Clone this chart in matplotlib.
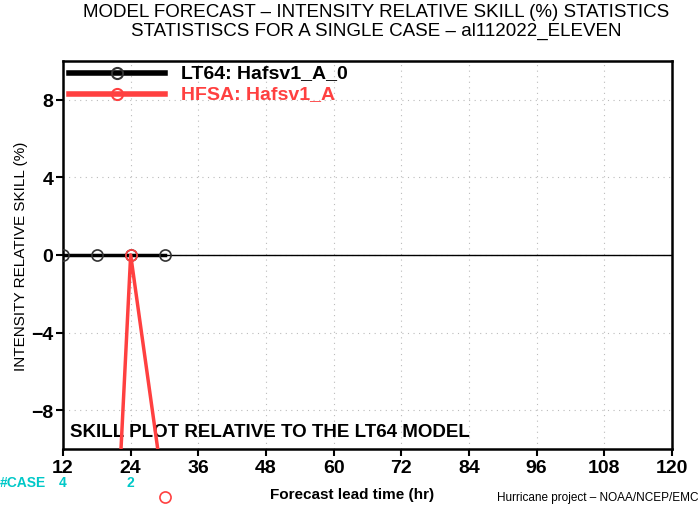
import matplotlib
matplotlib.use("Agg")
import matplotlib.pyplot as plt

# data
lead_hr = [12, 18, 24, 30]
skill_lt64 = [0, 0, 0, 0]
lead_hfsa = [18, 24, 30]
skill_hfsa = [-35, 0, -12.5]
case_hr = [12, 24]
case_n = ['4', '2']
xticks = [12, 24, 36, 48, 60, 72, 84, 96, 108, 120]
yticks = [-8, -4, 0, 4, 8]

plt.rcParams['font.family'] = ['Liberation Sans', 'DejaVu Sans']

fig = plt.figure(figsize=(7, 5.06), dpi=100)
ax = fig.add_axes([0.09, 0.1107, 0.87, 0.767])

ax.axhline(0, color='black', lw=1, zorder=2)
ax.plot(lead_hr, skill_lt64, color='black', lw=2.5, marker='o', ms=8,
        mfc='none', mec='#333333', mew=1.2, zorder=3)
ax.plot(lead_hfsa, skill_hfsa, color='#ff4040', lw=2.5, zorder=4)
ax.plot(lead_hfsa, skill_hfsa, ls='none', marker='o', ms=8, mfc='none',
        mec='#ff4040', mew=1.2, clip_on=False, zorder=5)

ax.set_xlim(12, 120)
ax.set_ylim(-10, 10)
ax.set_xticks(xticks)
ax.set_yticks(yticks)
ax.set_xticklabels([str(t) for t in xticks], fontsize=14, fontweight='bold')
ax.set_yticklabels(['\u22128', '\u22124', '0', '4', '8'], fontsize=14, fontweight='bold')
ax.tick_params(direction='out', length=5, width=1.5, pad=2)
ax.grid(True, ls=(0, (1, 4)), color='#bbbbbb', lw=0.8)
for s in ax.spines.values():
    s.set_linewidth(1.8)

# legend drawn as in the original plot
ax.plot([13, 30], [9.4, 9.4], color='black', lw=4)
ax.plot([21.5], [9.4], marker='o', ms=8, mfc='none', mec='#333333', mew=1.5)
ax.plot([13, 30], [8.3, 8.3], color='#ff4040', lw=4)
ax.plot([21.5], [8.3], marker='o', ms=8, mfc='none', mec='#ff4040', mew=1.5)
ax.text(33, 9.4, 'LT64: Hafsv1_A_0', color='black', fontsize=14,
        fontweight='bold', va='center')
ax.text(33, 8.3, 'HFSA: Hafsv1_A', color='#ff4040', fontsize=14,
        fontweight='bold', va='center')

ax.text(13.3, -9.1, 'SKILL PLOT RELATIVE TO THE LT64 MODEL', fontsize=13.5,
        fontweight='bold', va='center')

ax.set_ylabel('INTENSITY RELATIVE SKILL (%)', fontsize=11)
ax.yaxis.set_label_coords(-0.058, 0.5)

fig.text(0.537, 0.975, 'MODEL FORECAST \u2013 INTENSITY RELATIVE SKILL (%) STATISTICS',
         ha='center', va='center', fontsize=13.5)
fig.text(0.537, 0.937, 'STATISTISCS FOR A SINGLE CASE \u2013 al112022_ELEVEN',
         ha='center', va='center', fontsize=13.5)

cyan = '#00c8c8'
fig.text(0.0, 0.045, '#CASE', color=cyan, fontsize=10, fontweight='bold', va='center')
for h, n in zip(case_hr, case_n):
    x = ax.transAxes.inverted().transform(ax.transData.transform((h, 0)))[0]
    ax.text(x, -0.0855, n, transform=ax.transAxes, color=cyan, fontsize=10,
            fontweight='bold', ha='center', va='center')

fig.text(0.503, 0.022, 'Forecast lead time (hr)', ha='center', va='center',
         fontsize=11, fontweight='bold')
fig.text(0.998, 0.016, 'Hurricane project \u2013 NOAA/NCEP/EMC', ha='right',
         va='center', fontsize=8.5)

fig.savefig('out.png', dpi=100)
